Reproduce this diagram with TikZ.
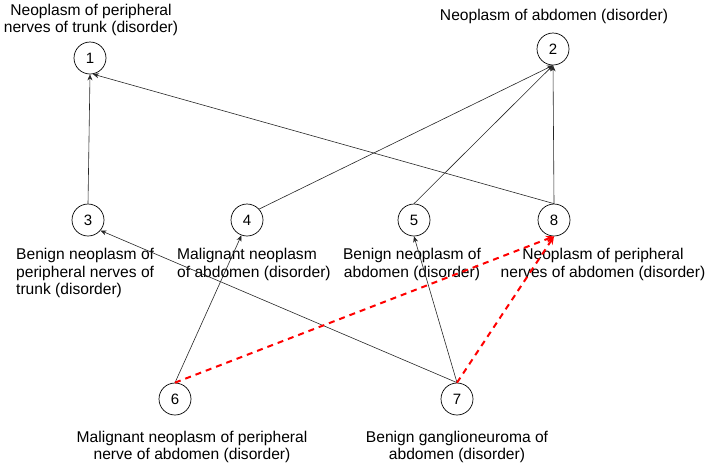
\documentclass[tikz,border=0pt]{standalone}
\usepackage{fontspec}
\setmainfont{Liberation Sans}
\usetikzlibrary{arrows.meta}
\begin{document}
\begin{tikzpicture}[x=1pt,y=-1pt,
  num/.style={circle,draw=black,line width=0.7pt,minimum size=32pt,inner sep=0pt,font=\fontsize{15}{17}\selectfont},
  lbl/.style={inner sep=0pt,align=center,font=\fontsize{15.6}{17.5}\selectfont},
  lbll/.style={inner sep=0pt,align=left,anchor=west,font=\fontsize{15.6}{17.5}\selectfont},
  isa/.style={draw=black!85,line width=0.6pt,-{Stealth[length=6pt,width=5pt]}},
  redd/.style={draw=red,line width=2pt,dash pattern=on 6pt off 5pt,-{Stealth[length=8pt,width=7pt]}}]
\useasboundingbox (0,0) rectangle (708,467);
\node[num] (n1) at (90,58) {1};
\node[num] (n2) at (553,49) {2};
\node[num] (n3) at (88,220) {3};
\node[num] (n4) at (247,220) {4};
\node[num] (n5) at (414,220) {5};
\node[num] (n8) at (554,220) {8};
\node[num] (n6) at (175,399) {6};
\node[num] (n7) at (457,399) {7};
\node[lbl] (l1) at (91,20) {Neoplasm of peripheral\\nerves of trunk (disorder)};
\node[lbl] (l2) at (554,16) {Neoplasm of abdomen (disorder)};
\node[lbll] (l3) at (16,273) {Benign neoplasm of\\peripheral nerves of\\trunk (disorder)};
\node[lbll] (l4) at (177,264.5) {Malignant neoplasm\\of abdomen (disorder)};
\node[lbl] (l5) at (412,264.5) {Benign neoplasm of\\abdomen (disorder)};
\node[lbl] (l8) at (603,264.5) {Neoplasm of peripheral\\nerves of abdomen (disorder)};
\node[lbl] (l6) at (192,447) {Malignant neoplasm of peripheral\\nerve of abdomen (disorder)};
\node[lbl] (l7) at (457,447) {Benign ganglioneuroma of\\abdomen (disorder)};
\draw[isa] (n3.north) -- (n1.south);
\draw[isa] (n8.north) -- (n1.-80);
\draw[isa] (n4.42) -- (n2.south);
\draw[isa] (n5.north) -- (n2.south);
\draw[isa] (n8.north) -- (n2.south);
\draw[isa] (n6.north) -- (n4.-110);
\draw[isa] (n7.north) -- (n3.-40);
\draw[isa] (n7.north) -- (n5.south);
\draw[redd] (n6.north) -- (n8.south);
\draw[redd] (n7.north) -- (n8.south);
\end{tikzpicture}
\end{document}
